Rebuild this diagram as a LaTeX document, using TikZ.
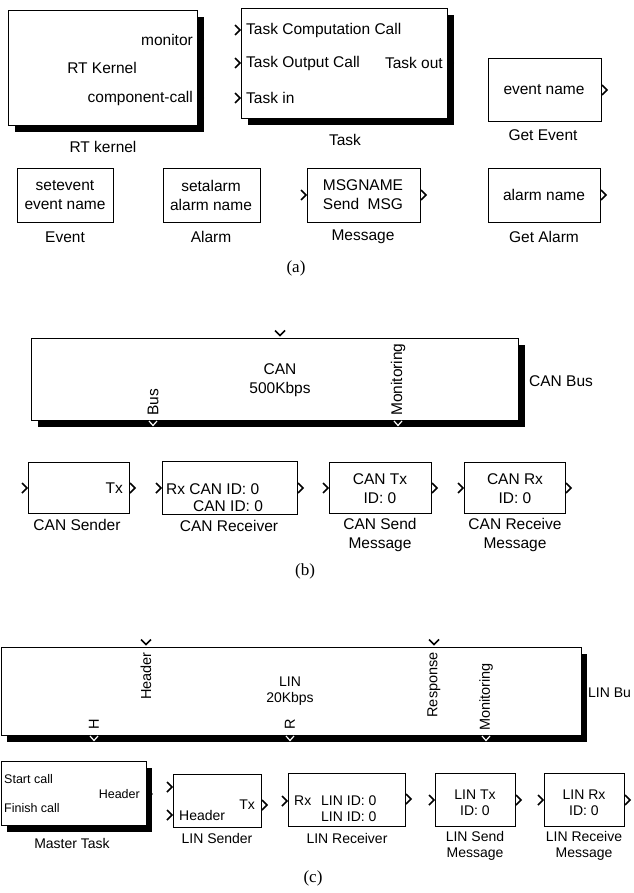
\documentclass[tikz,border=0pt]{standalone}
\usepackage{fontspec}
\setmainfont{Liberation Sans}
\newfontfamily\capfont{Liberation Serif}
\usetikzlibrary{shadows}
\begin{document}
\begin{tikzpicture}[x=1pt,y=-1pt,
  blk/.style={draw, line width=1.3pt, fill=white, inner sep=0pt, anchor=north west},
  shad/.style={drop shadow={shadow xshift=6pt, shadow yshift=-6pt, fill=black, opacity=1}},
  txt/.style={inner sep=0pt, font=\fontsize{15.5}{19}\selectfont, align=center},
  txtc/.style={inner sep=0pt, font=\fontsize{14}{16}\selectfont, align=center},
  txtr/.style={inner sep=0pt, font=\fontsize{14.5}{17}\selectfont},
  txts/.style={inner sep=0pt, font=\fontsize{12.5}{15}\selectfont},
  captxt/.style={inner sep=0pt, font=\capfont\fontsize{17}{20}\selectfont},
  portline/.style={line width=1.6pt},
  outp/.pic={\draw[portline] (1,-5) -- (6,0) -- (1,5);},
  inp/.pic={\draw[portline] (-6,-5) -- (-1,0) -- (-6,5);},
  downin/.pic={\draw[portline] (-5,-7.5) -- (0,-2.5) -- (5,-7.5);},
  downout/.pic={\draw[white, line width=1.2pt] (-4,1) -- (0,5.5) -- (4,1);}
]
\useasboundingbox (0,0) rectangle (633,893);

% ================= (a) =================
\node[blk, shad, minimum width=189pt, minimum height=115pt] (rtk) at (8,10) {};
\node[txt, anchor=east] (rtkmon) at (193,40) {monitor};
\node[txt] (rtkname) at (102,68) {RT Kernel};
\node[txt, anchor=east] (rtkcc) at (193,98) {component-call};
\pic at (197,40) {outp};
\pic at (197,98) {outp};
\node[txt] (rtkcap) at (103,147) {RT kernel};

\node[blk, shad, minimum width=206pt, minimum height=110pt] (task) at (241,8) {};
\node[txt, anchor=west] (taskcc) at (246,30) {Task Computation Call};
\node[txt, anchor=west] (taskoc) at (246,63) {Task Output Call};
\node[txt, anchor=west] (taskin) at (246,98) {Task in};
\node[txt, anchor=east] (taskout) at (443,63) {Task out};
\pic at (241,30) {inp};
\pic at (241,63) {inp};
\pic at (241,98) {inp};
\pic at (447,63) {outp};
\node[txt] (taskcap) at (345,140) {Task};

\node[blk, minimum width=113pt, minimum height=63pt] (gev) at (488,58) {};
\node[txt] (gevtxt) at (544,90) {event name};
\pic at (601,90) {outp};
\node[txt] (gevcap) at (543,135) {Get Event};

\node[blk, minimum width=96pt, minimum height=54pt] (ev) at (17,168) {};
\node[txt] (evtxt) at (65,195) {setevent\\event name};
\node[txt] (evcap) at (65,237) {Event};

\node[blk, minimum width=97pt, minimum height=54pt] (al) at (163,168) {};
\node[txt] (altxt) at (211,195) {setalarm\\alarm name};
\node[txt] (alcap) at (211,237) {Alarm};

\node[blk, minimum width=113pt, minimum height=54pt] (msg) at (307,168) {};
\node[txt] (msgtxt) at (363,195) {MSGNAME\\Send\hspace{0.55em}MSG};
\pic at (307,195) {inp};
\pic at (420,195) {outp};
\node[txt] (msgcap) at (363,237) {Message};

\node[blk, minimum width=112pt, minimum height=54pt] (gal) at (488,168) {};
\node[txt] (galtxt) at (544,195) {alarm name};
\pic at (600,195) {outp};
\node[txt] (galcap) at (544,237) {Get Alarm};

\node[captxt] (capa) at (296,268) {(a)};

% ================= (b) =================
\node[blk, shad, minimum width=487pt, minimum height=82pt] (canbus) at (31,338) {};
\node[txt] (cantxt) at (280,380) {CAN\\500Kbps};
\node[txt, rotate=90, anchor=west] (canbusp) at (153,416) {Bus};
\node[txt, rotate=90, anchor=west] (canmon) at (398,416) {Monitoring};
\pic at (280,338) {downin};
\pic at (153,420) {downout};
\pic at (398,420) {downout};
\node[txt, anchor=west] (canbuscap) at (529,381) {CAN Bus};

\node[blk, minimum width=101pt, minimum height=51pt] (cs) at (28,462) {};
\node[txt, anchor=east] (cstx) at (123,488) {Tx};
\pic at (28,488) {inp};
\pic at (129,488) {outp};
\node[txt] (cscap) at (77,525) {CAN Sender};

\node[blk, minimum width=135pt, minimum height=53pt] (cr) at (162,461) {};
\node[txt, anchor=west] (crrx) at (166,489) {Rx CAN ID: 0};
\node[txt, anchor=west] (crid) at (193,506) {CAN ID: 0};
\pic at (162,488) {inp};
\pic at (297,488) {outp};
\node[txt] (crcap) at (229,526) {CAN Receiver};

\node[blk, minimum width=102pt, minimum height=51pt] (csm) at (329,462) {};
\node[txt] (csmtxt) at (380,489) {CAN Tx\\ID: 0};
\pic at (329,488) {inp};
\pic at (431,488) {outp};
\node[txt] (csmcap) at (380,535) {CAN Send\\Message};

\node[blk, minimum width=101pt, minimum height=51pt] (crm) at (464,462) {};
\node[txt] (crmtxt) at (515,489) {CAN Rx\\ID: 0};
\pic at (464,488) {inp};
\pic at (565,488) {outp};
\node[txt] (crmcap) at (515,535) {CAN Receive\\Message};

\node[captxt] (capb) at (305,571) {(b)};

% ================= (c) =================
\node[blk, shad, minimum width=580pt, minimum height=88pt] (linbus) at (0.7,647) {};
\node[txtc] (lintxt) at (290,691) {LIN\\20Kbps};
\node[txtr, rotate=90, anchor=east] (linhdr) at (146,652) {Header};
\node[txtr, rotate=90, anchor=east] (linresp) at (434,652) {Response};
\node[txtr, rotate=90, anchor=west] (linmon) at (486,731) {Monitoring};
\node[txtr, rotate=90, anchor=west] (linh) at (94,730) {H};
\node[txtr, rotate=90, anchor=west] (linr) at (290,730) {R};
\pic at (146,647) {downin};
\pic at (434,647) {downin};
\pic at (94,735) {downout};
\pic at (290,735) {downout};
\pic at (486,735) {downout};
\node[txtc, anchor=west] (linbuscap) at (588,693) {LIN Bu};

\node[blk, shad, minimum width=145pt, minimum height=64pt] (mt) at (0.7,761) {};
\node[txts, anchor=west] (mtstart) at (4,779) {Start call};
\node[txts, anchor=west] (mtfin) at (4,808) {Finish call};
\node[txts, anchor=east] (mthdr) at (140,794) {Header};
\pic at (145.7,794) {outp};
\node[txtc] (mtcap) at (72,843) {Master Task};

\node[blk, minimum width=88pt, minimum height=53pt] (ls) at (173,774) {};
\node[txtc, anchor=west] (lshdr) at (179,815) {Header};
\node[txtc, anchor=east] (lstx) at (255,805) {Tx};
\pic at (173,787) {inp};
\pic at (173,815) {inp};
\pic at (261,805) {outp};
\node[txtc] (lscap) at (217,838) {LIN Sender};

\node[blk, minimum width=117pt, minimum height=53pt] (lr) at (288,773) {};
\node[txtc, anchor=west] (lrrx) at (294,801) {Rx};
\node[txtc, anchor=west] (lrid1) at (321,801) {LIN ID: 0};
\node[txtc, anchor=west] (lrid2) at (321,817) {LIN ID: 0};
\pic at (288,801) {inp};
\pic at (405,799) {outp};
\node[txtc] (lrcap) at (347,838) {LIN Receiver};

\node[blk, minimum width=80pt, minimum height=53pt] (lsm) at (435,773) {};
\node[txtc] (lsmtxt) at (475,803) {LIN Tx\\ID: 0};
\pic at (435,800) {inp};
\pic at (515,800) {outp};
\node[txtc] (lsmcap) at (475,846) {LIN Send\\Message};

\node[blk, minimum width=80pt, minimum height=53pt] (lrm) at (544,773) {};
\node[txtc] (lrmtxt) at (584,803) {LIN Rx\\ID: 0};
\pic at (544,800) {inp};
\pic at (624,800) {outp};
\node[txtc] (lrmcap) at (584,846) {LIN Receive\\Message};

\node[captxt] (capc) at (313,878) {(c)};
\end{tikzpicture}
\end{document}
